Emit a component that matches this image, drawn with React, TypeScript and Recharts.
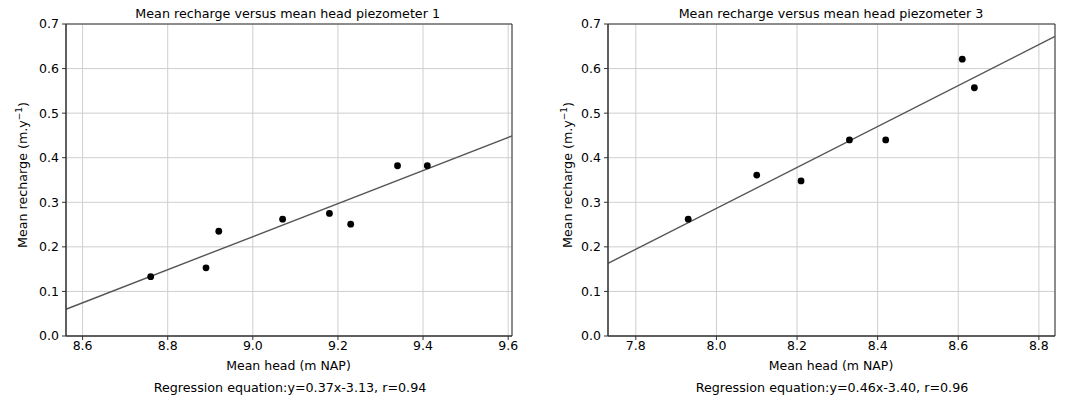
import React from 'react';
import {
    ScatterChart,
    Scatter,
    XAxis,
    YAxis,
    CartesianGrid,
    ReferenceLine,
    ReferenceArea,
} from 'recharts';

// Piezometer 1 observations
const p1Head = [8.76, 8.89, 8.92, 9.07, 9.18, 9.23, 9.34, 9.41];
const p1Recharge = [0.133, 0.153, 0.235, 0.262, 0.275, 0.251, 0.382, 0.382];
const p1FitHead = [8.561, 9.609];
const p1FitRecharge = [0.06, 0.449];
const p1XTicks = [8.6, 8.8, 9.0, 9.2, 9.4, 9.6];

// Piezometer 3 observations
const p3Head = [7.93, 8.1, 8.21, 8.33, 8.42, 8.61, 8.64];
const p3Recharge = [0.262, 0.361, 0.348, 0.44, 0.44, 0.621, 0.557];
const p3FitHead = [7.731, 8.84];
const p3FitRecharge = [0.163, 0.672];
const p3XTicks = [7.8, 8.0, 8.2, 8.4, 8.6, 8.8];

const yTicks = [0, 0.1, 0.2, 0.3, 0.4, 0.5, 0.6, 0.7];

const FONT = '"DejaVu Sans", sans-serif';
const tickStyle = { fill: '#000', fontSize: 12.5, fontFamily: FONT };

interface PanelProps {
    head: number[];
    recharge: number[];
    fitHead: number[];
    fitRecharge: number[];
    xTicks: number[];
    xDomain: [number, number];
    yAxisWidth: number;
    marginRight: number;
}

const Panel: React.FC<PanelProps> = ({
    head, recharge, fitHead, fitRecharge, xTicks, xDomain, yAxisWidth, marginRight,
}) => {
    const points = head.map((h, i) => ({ x: h, y: recharge[i] }));
    return (
        <ScatterChart
            width={540}
            height={400}
            margin={{ top: 24, right: marginRight, left: 0, bottom: 34 }}
        >
            <CartesianGrid stroke="#cfcfcf" strokeWidth={1} />
            <XAxis
                type="number"
                dataKey="x"
                domain={xDomain}
                ticks={xTicks}
                allowDataOverflow
                height={30}
                tick={tickStyle}
                tickFormatter={(v: number) => v.toFixed(1)}
                tickSize={4}
                tickMargin={1.5}
                stroke="#333"
            />
            <YAxis
                type="number"
                dataKey="y"
                domain={[0, 0.7]}
                ticks={yTicks}
                allowDataOverflow
                width={yAxisWidth}
                tick={tickStyle}
                tickFormatter={(v: number) => v.toFixed(1)}
                tickSize={4}
                tickMargin={3}
                stroke="#333"
            />
            <ReferenceArea
                x1={xDomain[0]}
                x2={xDomain[1]}
                y1={0}
                y2={0.7}
                fill="none"
                stroke="#333"
                strokeWidth={1}
                ifOverflow="visible"
            />
            <ReferenceLine
                segment={[
                    { x: fitHead[0], y: fitRecharge[0] },
                    { x: fitHead[1], y: fitRecharge[1] },
                ]}
                stroke="#555"
                strokeWidth={1.4}
                ifOverflow="visible"
            />
            <Scatter
                data={points}
                fill="#000"
                isAnimationActive={false}
                shape={(p: any) => <circle cx={p.cx} cy={p.cy} r={3.4} fill="#000" />}
            />
        </ScatterChart>
    );
};

const YLabel: React.FC<{ x: number }> = ({ x }) => (
    <text
        transform={`translate(${x},175) rotate(-90)`}
        textAnchor="middle"
        fontSize={12.7}
        fontFamily={FONT}
        fill="#000"
    >
        Mean recharge (m.y
        <tspan dy={-5} fontSize={9}>−1</tspan>
        <tspan dy={5}>)</tspan>
    </text>
);

export default function App() {
    const txt = { fontSize: 12.7, fontFamily: FONT, fill: '#000', textAnchor: 'middle' as const };
    return (
        <div style={{ position: 'absolute', left: 0, top: 0, width: 1079, height: 400, background: '#fff' }}>
            <div style={{ position: 'absolute', left: 0, top: 0 }}>
                <Panel
                    head={p1Head}
                    recharge={p1Recharge}
                    fitHead={p1FitHead}
                    fitRecharge={p1FitRecharge}
                    xTicks={p1XTicks}
                    xDomain={[8.561, 9.609]}
                    yAxisWidth={66}
                    marginRight={28}
                />
            </div>
            <div style={{ position: 'absolute', left: 539, top: 0 }}>
                <Panel
                    head={p3Head}
                    recharge={p3Recharge}
                    fitHead={p3FitHead}
                    fitRecharge={p3FitRecharge}
                    xTicks={p3XTicks}
                    xDomain={[7.731, 8.84]}
                    yAxisWidth={69}
                    marginRight={24}
                />
            </div>
            <svg
                width={1079}
                height={400}
                style={{ position: 'absolute', left: 0, top: 0, pointerEvents: 'none' }}
            >
                <text x={287.7} y={18.3} {...txt}>Mean recharge versus mean head piezometer 1</text>
                <text x={831} y={18.3} {...txt}>Mean recharge versus mean head piezometer 3</text>
                <text x={288.5} y={370} {...txt} fontSize={12.5}>Mean head (m NAP)</text>
                <text x={831} y={370} {...txt} fontSize={12.5}>Mean head (m NAP)</text>
                <text x={290} y={392.3} {...txt}>Regression equation:y=0.37x-3.13, r=0.94</text>
                <text x={832} y={392.3} {...txt}>Regression equation:y=0.46x-3.40, r=0.96</text>
                <YLabel x={26.5} />
                <YLabel x={571.7} />
            </svg>
        </div>
    );
}
